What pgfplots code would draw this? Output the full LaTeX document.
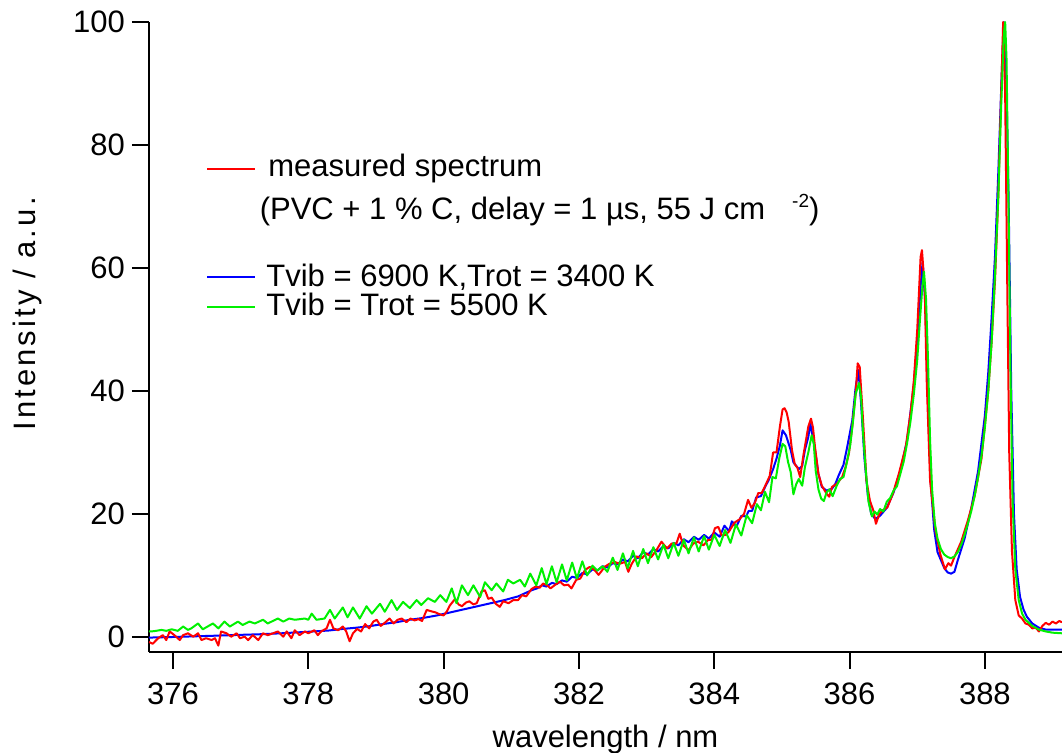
\documentclass[border=0pt]{standalone}
\usepackage{pgfplots}
\pgfplotsset{compat=1.18}
\usepackage{fontspec}
\setmainfont{Liberation Sans}
\definecolor{cred}{rgb}{1,0,0}
\definecolor{cblue}{rgb}{0,0,1}
\definecolor{cgreen}{rgb}{0,0.94,0}
\newcommand{\lf}{\fontsize{15.5}{18}\selectfont}
\begin{document}
\begin{tikzpicture}
\useasboundingbox (0,0) rectangle (531pt,376.5pt);
\begin{axis}[
  at={(74.5pt,50.5pt)}, anchor=south west,
  scale only axis, width=456.5pt, height=315pt,
  xmin=375.645, xmax=389.14, ymin=-2.44, ymax=100,
  axis x line*=bottom, axis y line*=left,
  axis line style={line width=1pt},
  xtick={376,378,...,388}, ytick={0,20,...,100},
  tick align=outside, major tick length=8.5pt,
  tick style={line width=1pt, black},
  tick label style={font=\lf},
  xticklabel style={yshift=-3.5pt},
  /pgf/number format/assume math mode=true,
  /pgf/number format/1000 sep={},
  every axis plot/.append style={line width=1pt, line join=round},
]
\addplot[cblue] table {
x y
375.645 -0.1
376.0 0.0
376.3 0.1
376.6 0.2
377.0 0.35
377.3 0.45
377.6 0.6
378.0 0.85
378.3 1.05
378.5 1.3
378.7 1.5
378.9 1.75
379.1 2.1
379.3 2.4
379.5 2.8
379.7 3.1
379.9 3.5
380.1 4.0
380.3 4.5
380.5 5.0
380.7 5.5
380.9 6.0
381.1 6.6
381.30 7.6
381.38 7.9
381.45 8.4
381.52 8.2
381.60 8.8
381.67 8.6
381.75 9.2
381.82 9.0
381.90 9.8
381.97 9.6
382.05 10.4
382.12 10.2
382.20 11.0
382.27 10.8
382.35 11.5
382.42 11.3
382.50 12.0
382.57 11.8
382.65 12.6
382.72 12.3
382.80 13.2
382.87 12.8
382.95 13.8
383.02 13.4
383.10 14.3
383.17 13.9
383.25 14.8
383.32 14.4
383.40 15.3
383.47 14.9
383.55 15.9
383.62 15.4
383.70 16.3
383.77 15.8
383.85 16.6
383.92 16.0
384.00 17.0
384.08 16.3
384.15 18.1
384.22 17.2
384.26 18.8
384.33 18.0
384.40 19.7
384.47 19.6
384.51 20.5
384.56 20.5
384.62 22.7
384.69 22.9
384.76 24.6
384.80 25.4
384.87 27.3
384.92 29.0
384.97 31.1
385.01 33.6
385.06 32.8
385.13 30.4
385.17 28.4
385.25 27.3
385.30 27.8
385.34 30.4
385.39 32.5
385.42 34.7
385.49 30.4
385.54 26.5
385.59 24.4
385.66 23.8
385.74 24.1
385.79 24.9
385.84 26.3
385.91 28.0
385.96 30.6
386.04 35.2
386.09 40.6
386.13 43.4
386.17 38.0
386.22 29.0
386.27 23.0
386.32 20.0
386.38 19.2
386.45 19.7
386.55 21.0
386.65 23.5
386.75 27.0
386.85 32.0
386.95 41.0
387.00 48.0
387.05 57.0
387.08 61.0
387.12 54.0
387.16 38.0
387.20 25.0
387.25 17.5
387.30 13.8
387.40 11.2
387.45 10.5
387.50 10.3
387.55 10.6
387.60 12.5
387.70 16.0
387.80 21.0
387.90 27.0
388.00 36.0
388.05 43.0
388.10 52.0
388.15 62.0
388.20 76.0
388.25 92.0
388.28 100.0
388.31 94.0
388.35 72.0
388.39 40.0
388.43 20.0
388.47 11.0
388.52 6.5
388.57 4.5
388.62 3.3
388.70 2.2
388.80 1.5
388.90 1.2
389.00 1.2
389.14 1.2
};
\addplot[cred] table {
x y
375.645 -0.8
375.70 -1.1
375.78 -0.2
375.85 0.3
375.90 -0.5
375.95 0.9
376.02 0.3
376.10 -0.5
376.15 0.3
376.22 0.6
376.30 0.05
376.37 0.6
376.42 -0.5
376.49 -0.2
376.57 -0.5
376.62 -0.2
376.67 -1.4
376.71 0.9
376.79 0.6
376.86 0.05
376.94 0.6
376.99 -0.2
377.06 0.05
377.11 -0.5
377.18 0.3
377.26 -0.5
377.33 0.6
377.40 0.3
377.48 0.6
377.55 0.9
377.63 0.05
377.68 0.9
377.75 -0.2
377.80 1.1
377.87 0.3
377.95 0.9
378.00 0.6
378.09 1.1
378.14 0.3
378.19 0.9
378.27 1.4
378.32 2.8
378.37 1.4
378.44 1.1
378.51 1.7
378.56 0.9
378.61 -0.7
378.66 0.6
378.72 1.3
378.78 0.9
378.84 2.1
378.90 1.4
378.96 2.5
379.01 2.8
379.07 1.8
379.13 2.3
379.20 3.0
379.26 2.2
379.32 2.8
379.38 3.0
379.45 2.4
379.51 3.0
379.57 2.7
379.63 2.9
379.68 2.6
379.75 4.4
379.81 4.2
379.88 4.0
379.94 3.7
380.00 3.5
380.05 4.2
380.09 5.1
380.17 6.2
380.22 5.3
380.27 5.0
380.33 5.6
380.38 5.8
380.44 5.3
380.49 5.5
380.56 7.4
380.61 7.6
380.66 6.2
380.71 6.4
380.77 5.4
380.83 4.9
380.88 5.8
380.96 5.5
381.03 6.0
381.10 6.0
381.16 6.8
381.22 6.6
381.30 7.8
381.36 8.2
381.42 8.0
381.47 8.7
381.53 8.4
381.58 7.9
381.65 8.5
381.72 9.0
381.78 8.4
381.84 8.5
381.89 7.9
381.96 9.3
382.02 9.5
382.09 10.9
382.16 11.4
382.23 10.9
382.29 10.1
382.34 10.8
382.38 11.4
382.45 11.9
382.53 12.2
382.60 11.9
382.68 12.2
382.73 10.6
382.78 11.9
382.85 13.1
382.93 12.8
383.00 13.6
383.07 13.0
383.15 14.2
383.22 15.5
383.30 14.4
383.37 15.2
383.44 15.2
383.49 16.8
383.54 14.9
383.62 14.1
383.69 15.2
383.76 15.5
383.84 14.9
383.91 15.8
383.96 15.8
384.01 17.7
384.06 17.9
384.11 16.5
384.17 16.6
384.22 17.2
384.30 18.6
384.37 19.1
384.44 20.0
384.50 22.3
384.55 21.0
384.60 21.8
384.65 23.4
384.70 23.4
384.75 24.5
384.82 26.2
384.87 30.0
384.92 30.0
384.97 34.2
385.01 37.0
385.04 37.2
385.07 36.5
385.10 35.0
385.15 30.3
385.19 28.1
385.23 27.5
385.27 26.0
385.32 29.7
385.39 34.2
385.43 35.5
385.46 34.0
385.49 30.8
385.54 26.5
385.59 24.6
385.66 23.3
385.70 22.8
385.74 24.4
385.81 24.9
385.89 26.0
385.94 27.6
385.99 29.8
386.04 34.2
386.09 39.6
386.12 44.5
386.15 43.9
386.20 35.2
386.25 25.4
386.30 22.2
386.35 20.6
386.39 18.4
386.44 20.0
386.49 20.6
386.56 21.1
386.64 23.3
386.73 26.6
386.83 30.9
386.90 36.3
386.95 41.7
387.00 49.9
387.05 61.8
387.07 62.9
387.11 56.9
387.14 41.7
387.19 25.4
387.27 17.3
387.34 13.5
387.41 11.0
387.46 12.0
387.50 11.6
387.55 13.0
387.65 15.5
387.75 19.0
387.85 23.0
387.95 29.0
388.05 40.0
388.10 48.0
388.15 58.0
388.20 72.0
388.24 88.0
388.27 100.0
388.30 88.0
388.33 58.0
388.36 30.0
388.40 14.0
388.45 6.0
388.50 3.5
388.55 3.0
388.60 2.2
388.65 2.0
388.70 1.4
388.75 1.5
388.80 0.9
388.85 1.8
388.90 2.3
388.95 2.0
389.00 2.5
389.05 2.2
389.10 2.6
389.14 2.4
};
\addplot[cgreen] table {
x y
375.645 0.9
375.68 0.9
375.75 1.0
375.83 1.15
375.90 1.0
375.98 1.25
376.07 1.0
376.15 1.7
376.22 1.15
376.27 1.4
376.37 2.2
376.44 1.25
376.59 2.2
376.67 1.4
376.76 2.5
376.84 1.7
376.96 2.5
377.03 1.95
377.13 2.5
377.21 2.2
377.33 2.8
377.40 2.2
377.55 3.0
377.63 2.5
377.72 3.0
377.80 2.8
377.95 3.0
378.00 2.8
378.05 3.8
378.12 2.8
378.24 3.0
378.32 4.4
378.39 3.0
378.51 4.8
378.58 3.2
378.66 4.8
378.76 3.0
378.86 5.0
378.94 3.8
379.06 5.4
379.13 4.1
379.23 6.0
379.31 4.4
379.40 5.7
379.50 4.7
379.60 6.0
379.67 5.2
379.77 6.3
379.87 5.7
379.95 6.8
380.04 5.7
380.12 7.9
380.19 5.5
380.27 8.4
380.36 6.8
380.44 8.4
380.54 6.5
380.61 8.9
380.71 7.6
380.78 8.7
380.88 7.4
380.95 9.3
381.03 8.7
381.13 9.3
381.20 8.2
381.28 10.3
381.37 8.4
381.45 11.2
381.52 8.6
381.60 11.5
381.67 8.9
381.75 11.8
381.82 9.2
381.90 12.1
381.97 9.5
382.05 12.3
382.12 10.0
382.20 11.6
382.27 10.8
382.35 11.5
382.42 10.6
382.50 12.9
382.57 10.9
382.65 13.6
382.72 11.2
382.80 14.0
382.87 11.5
382.95 14.3
383.02 12.0
383.10 14.6
383.17 12.6
383.25 15.0
383.32 12.8
383.40 15.3
383.47 13.2
383.55 15.8
383.62 13.6
383.70 16.2
383.77 13.9
383.85 16.4
383.92 14.2
384.00 16.6
384.08 14.8
384.16 17.4
384.24 15.3
384.32 18.3
384.40 16.5
384.48 19.8
384.56 18.5
384.63 21.6
384.69 20.6
384.75 23.6
384.81 21.9
384.86 26.0
384.91 25.8
384.96 29.0
385.01 31.4
385.05 31.0
385.09 28.5
385.13 26.8
385.17 23.2
385.21 24.8
385.25 25.7
385.30 24.6
385.34 27.6
385.39 30.0
385.44 32.8
385.47 31.5
385.50 27.0
385.54 24.0
385.58 22.5
385.62 22.1
385.66 23.5
385.70 24.0
385.75 22.9
385.81 24.6
385.86 25.7
385.91 26.0
385.96 28.4
386.01 31.2
386.05 35.0
386.09 39.5
386.14 41.3
386.17 39.0
386.20 33.0
386.24 27.0
386.28 22.0
386.33 19.6
386.37 20.4
386.41 19.9
386.45 20.8
386.50 20.4
386.55 22.0
386.60 22.6
386.65 23.8
386.70 24.5
386.75 26.5
386.80 28.5
386.85 31.5
386.90 35.0
386.95 39.5
387.00 45.0
387.04 51.5
387.08 57.5
387.10 59.4
387.13 55.0
387.16 45.0
387.19 32.0
387.22 24.0
387.26 18.5
387.30 16.0
387.35 14.3
387.40 13.4
387.45 13.0
387.50 12.8
387.55 13.1
387.60 13.8
387.65 15.0
387.70 16.6
387.75 18.5
387.80 20.5
387.85 23.0
387.90 26.0
387.95 29.5
388.00 34.0
388.05 40.0
388.10 48.0
388.15 59.0
388.20 72.0
388.24 86.0
388.28 98.0
388.30 100.0
388.32 94.0
388.35 70.0
388.38 42.0
388.41 22.0
388.45 11.0
388.50 6.0
388.55 3.8
388.60 2.8
388.70 1.8
388.80 1.2
388.90 0.9
389.00 0.7
389.14 0.6
};
\end{axis}
% axis labels
\node[font=\lf, anchor=base] at (302.75pt,2.5pt) {wavelength / nm};
\node[font=\lf, anchor=center, rotate=90] at (13.5pt,219.5pt) {\addfontfeature{LetterSpace=10}Intensity / a.u.};
% legend
\draw[cred, line width=1pt] (103.5pt,292pt) -- (127.5pt,292pt);
\node[font=\lf, anchor=base west, inner sep=0pt] at (134pt,288pt) {measured spectrum};
\node[font=\lf, anchor=base west, inner sep=0pt] at (129.7pt,266.5pt) {(PVC + 1 \% C, delay = 1 µs, 55 J cm\hspace{13.5pt}\raisebox{6pt}{\fontsize{9.5}{11}\selectfont -2})};
\draw[cblue, line width=1pt] (103.5pt,238pt) -- (127.5pt,238pt);
\node[font=\lf, anchor=base west, inner sep=0pt] at (133pt,233pt) {Tvib = 6900 K,Trot = 3400 K};
\draw[cgreen, line width=1pt] (103.5pt,223pt) -- (127.5pt,223pt);
\node[font=\lf, anchor=base west, inner sep=0pt] at (133pt,218.5pt) {Tvib = Trot = 5500 K};
\end{tikzpicture}
\end{document}
